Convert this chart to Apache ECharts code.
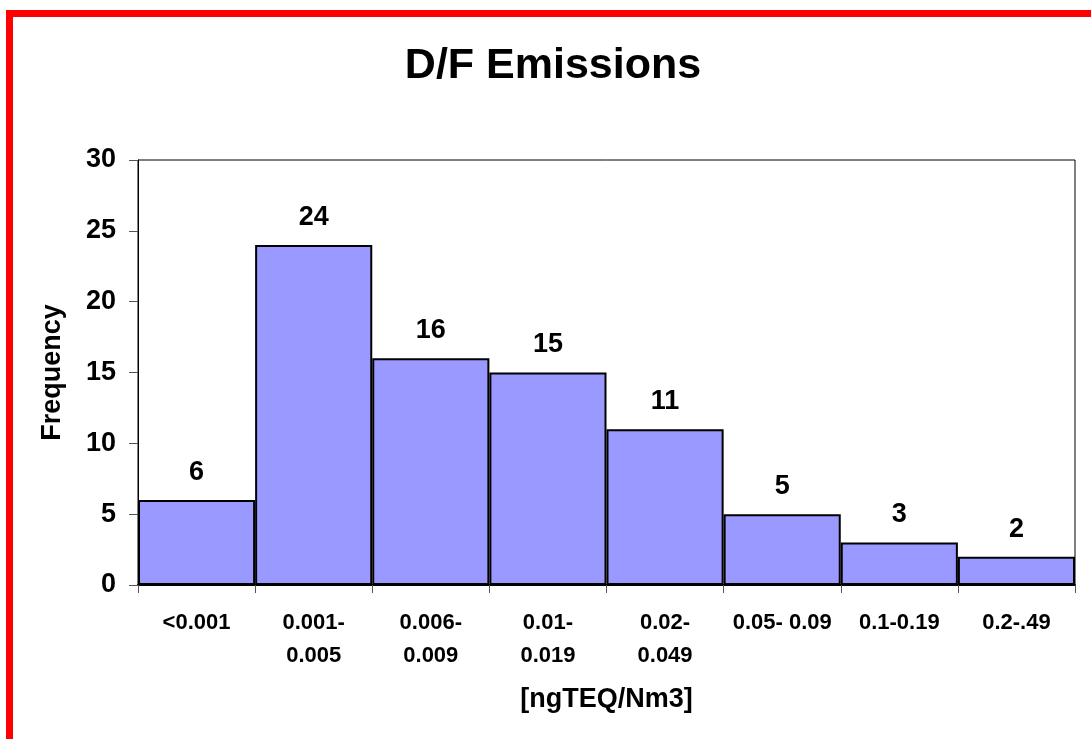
<!DOCTYPE html>
<html>
<head>
<meta charset="utf-8">
<script src="https://cdn.jsdelivr.net/npm/echarts@6/dist/echarts.min.js"></script>
<style>
html,body{margin:0;padding:0;background:#fff;}
#chart{width:1091px;height:739px;}
</style>
</head>
<body>
<div id="chart"></div>
<script>
const categories = ['<0.001', '0.001-\n0.005', '0.006-\n0.009', '0.01-\n0.019', '0.02-\n0.049', '0.05- 0.09', '0.1-0.19', '0.2-.49'];
const frequencies = [6, 24, 16, 15, 11, 5, 3, 2];
const yTicks = { min: 0, max: 30, interval: 5 };
const titleText = 'D/F Emissions';
const xName = '[ngTEQ/Nm3]';
const yName = 'Frequency';

const FONT = '"Liberation Sans", Arial, sans-serif';
const chart = echarts.init(document.getElementById('chart'), null, { renderer: 'canvas' });
chart.setOption({
  backgroundColor: '#ffffff',
  animation: false,
  title: {
    text: titleText,
    left: 548, top: 40, textAlign: 'center',
    textStyle: { fontFamily: FONT, fontWeight: 'bold', fontSize: 43, color: '#000' }
  },
  graphic: [{
    type: 'rect',
    shape: { x: 9.5, y: 13.5, width: 3000, height: 3000 },
    style: { fill: 'none', stroke: '#ff0000', lineWidth: 7 },
    silent: true
  }],
  grid: {
    left: 138, top: 160, right: 16, bottom: 154,
    show: true, borderColor: '#000', borderWidth: 1, backgroundColor: 'transparent'
  },
  xAxis: {
    type: 'category',
    data: categories,
    name: xName,
    nameLocation: 'middle',
    nameGap: 101,
    nameTextStyle: { fontFamily: FONT, fontWeight: 'bold', fontSize: 27, color: '#000' },
    axisLine: { show: true, lineStyle: { color: '#000', width: 2 } },
    axisTick: { show: true, length: 8, lineStyle: { color: '#555', width: 1 } },
    axisLabel: {
      interval: 0, margin: 21,
      fontFamily: FONT, fontWeight: 'bold', fontSize: 22, color: '#000', lineHeight: 33
    },
    splitLine: { show: false }
  },
  yAxis: {
    type: 'value',
    min: yTicks.min, max: yTicks.max, interval: yTicks.interval,
    name: yName,
    nameLocation: 'middle',
    nameGap: 72,
    nameTextStyle: { fontFamily: FONT, fontWeight: 'bold', fontSize: 27, color: '#000' },
    axisLine: { show: true, lineStyle: { color: '#000', width: 1 } },
    axisTick: { show: true, length: 9, lineStyle: { color: '#555', width: 1 } },
    axisLabel: { margin: 22, fontFamily: FONT, fontWeight: 'bold', fontSize: 27, color: '#000' },
    splitLine: { show: false }
  },
  series: [{
    type: 'bar',
    data: frequencies,
    barCategoryGap: '0%',
    itemStyle: { color: '#9999ff', borderColor: '#000', borderWidth: 2 },
    label: {
      show: true, position: 'top', distance: 14,
      fontFamily: FONT, fontWeight: 'bold', fontSize: 27, color: '#000'
    }
  }]
});
</script>
</body>
</html>
